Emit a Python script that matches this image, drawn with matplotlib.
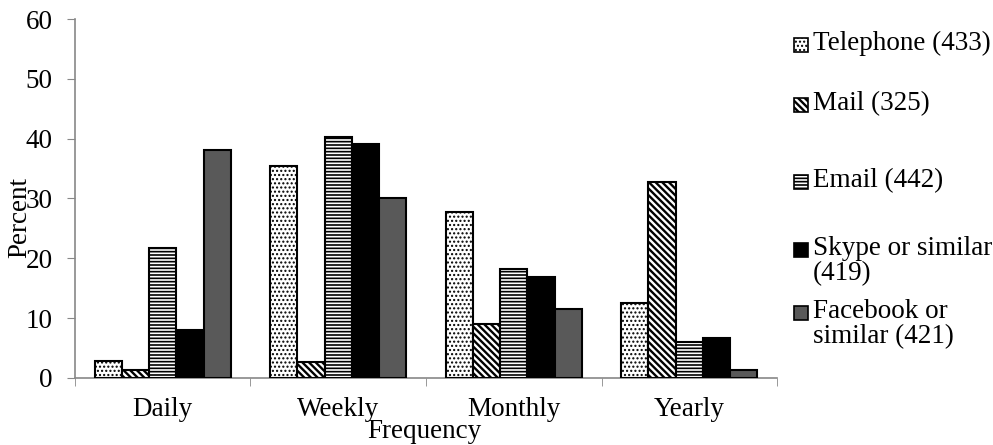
import matplotlib
matplotlib.use("Agg")
import matplotlib.pyplot as plt
from matplotlib.patches import Rectangle
import numpy as np

plt.rcParams['font.family'] = ['Liberation Serif', 'DejaVu Serif']

categories = ["Daily", "Weekly", "Monthly", "Yearly"]
series_names = ["Telephone (433)", "Mail (325)", "Email (442)",
                "Skype or similar\n(419)", "Facebook or\nsimilar (421)"]
telephone = [2.9, 35.5, 27.8, 12.6]
mail = [1.4, 2.6, 9.0, 32.7]
email = [21.8, 40.3, 18.2, 6.0]
skype = [8.0, 39.1, 16.9, 6.7]
facebook = [38.1, 30.0, 11.5, 1.3]
series = [telephone, mail, email, skype, facebook]
y_ticks = [0, 10, 20, 30, 40, 50, 60]

faces = ["white", "white", "white", "black", "#595959"]
hatches = ["....", "\\\\\\\\\\", "-----", None, None]
hatch_lw = [1.0, 1.7, 1.2, 1.0, 1.0]
FS = 19.5

fig = plt.figure(figsize=(9.93, 4.45), dpi=100)
ax = fig.add_axes([0.0755, 0.1506, 0.707, 0.8067])

x = np.arange(len(categories))
w = 0.155
for i, vals in enumerate(series):
    with plt.rc_context({'hatch.linewidth': hatch_lw[i]}):
        ax.bar(x + (i - 2) * w, vals, width=w, color=faces[i], hatch=hatches[i],
               edgecolor="black", linewidth=1.5, zorder=3)

ax.set_xlim(-0.5, 3.5)
ax.set_ylim(0, 60)
ax.set_yticks(y_ticks)
ax.set_xticks(x)
ax.set_xticklabels(categories)
ax.set_xticks(np.arange(-0.5, 4.0, 1.0), minor=True)
ax.tick_params(axis='x', which='major', length=0, pad=14, labelsize=FS)
ax.tick_params(axis='x', which='minor', length=6, color="#888888", direction='out')
ax.tick_params(axis='y', length=6, color="#888888", direction='out', labelsize=FS, pad=10)

for s in ["top", "right"]:
    ax.spines[s].set_visible(False)
for s in ["left", "bottom"]:
    ax.spines[s].set_color("#888888")
    ax.spines[s].set_linewidth(1.2)

fig.text(20 / 993, 1 - 218 / 445, "Percent", ha="center", va="center",
         rotation=90, fontsize=FS)
fig.text(424 / 993, 1 - 432 / 445, "Frequency", ha="center", va="center", fontsize=FS)

# legend entries placed down the right side
legend_y = [45, 105, 182, 250, 313]
for i, name in enumerate(series_names):
    yc = legend_y[i]
    px, size = 794, 14
    with plt.rc_context({'hatch.linewidth': hatch_lw[i]}):
        rect = Rectangle((px / 993, 1 - (yc + size / 2) / 445), size / 993, size / 445,
                         transform=fig.transFigure, facecolor=faces[i],
                         hatch=hatches[i], edgecolor="black", linewidth=1.2)
    fig.add_artist(rect)
    fig.text(813 / 993, 1 - (yc - 14) / 445, name, ha="left", va="top",
             fontsize=FS, linespacing=1.0)

fig.savefig("out.png", dpi=100)
